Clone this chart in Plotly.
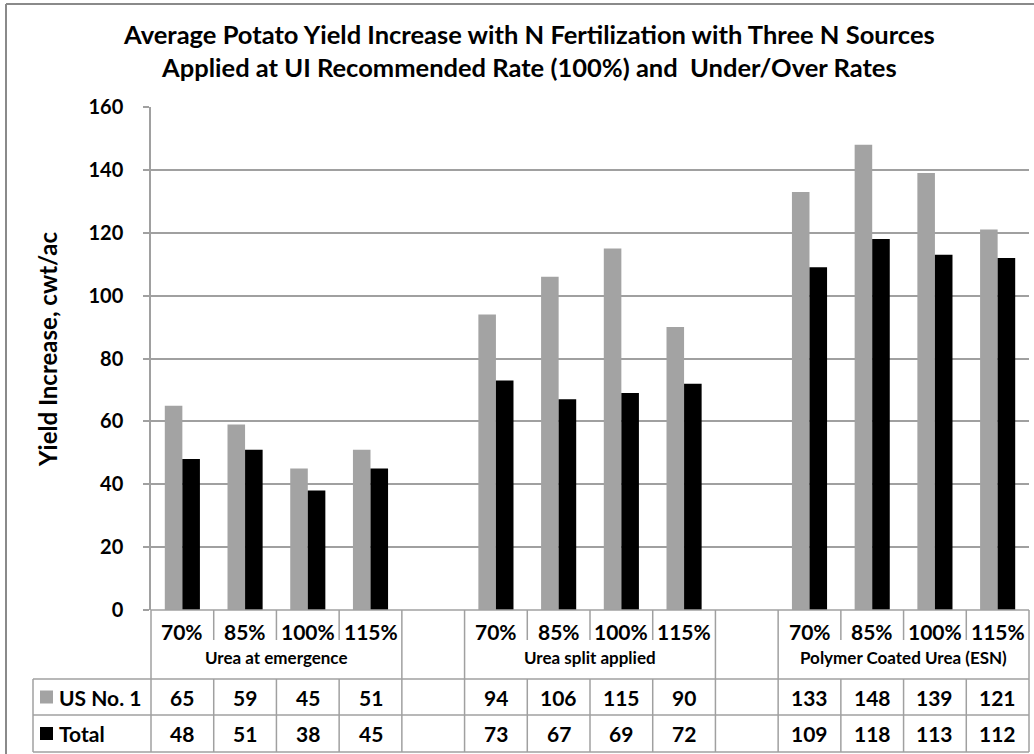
import plotly.graph_objects as go

# ---- data ----
rates = ["70%", "85%", "100%", "115%"]
sources = ["Urea at emergence", "Urea split applied", "Polymer Coated Urea (ESN)"]
us_no1 = [[65, 59, 45, 51], [94, 106, 115, 90], [133, 148, 139, 121]]
total = [[48, 51, 38, 45], [73, 67, 69, 72], [109, 118, 113, 112]]
series_names = ["US No. 1", "Total"]
series_colors = ["#a3a3a3", "#000000"]
y_ticks = [0, 20, 40, 60, 80, 100, 120, 140, 160]

# ---- layout geometry (pixels) ----
FIG_W, FIG_H = 1034, 754
PL, PR, PT, PB = 151, 1029, 107, 610
W, H = PR - PL, PB - PT
N_SLOTS = len(sources) * (len(rates) + 1) - 1   # a blank slot between sources


def xp(px):
    return (px - PL) / W


def yp(py):
    return (PB - py) / H


def slot_x(k):
    """paper x of slot centre k"""
    return (k + 0.5) / N_SLOTS


def edge_x(b):
    """paper x of the boundary left of slot b"""
    return b / N_SLOTS


# slot positions for each source's bars
slots = []
for g in range(len(sources)):
    slots.append([g * (len(rates) + 1) + i for i in range(len(rates))])

xs = [k for grp in slots for k in grp]
series_vals = [
    [v for grp in us_no1 for v in grp],
    [v for grp in total for v in grp],
]

fig = go.Figure()
for name, vals, col in zip(series_names, series_vals, series_colors):
    fig.add_trace(go.Bar(x=xs, y=vals, name=name, marker=dict(color=col, line=dict(width=0)),
                         showlegend=False, hoverinfo="y"))

FONT = "Lato, Carlito, Calibri, sans-serif"
GRID = "#a0a0a0"

fig.update_layout(
    width=FIG_W, height=FIG_H,
    margin=dict(l=PL, r=FIG_W - PR, t=PT, b=FIG_H - PB),
    paper_bgcolor="white", plot_bgcolor="white",
    barmode="group", bargap=0.44, bargroupgap=0,
    font=dict(family=FONT, color="#000"),
    xaxis=dict(range=[-0.5, N_SLOTS - 0.5], visible=False, fixedrange=True),
    yaxis=dict(range=[0, 160], tickvals=y_ticks, showgrid=True, gridcolor=GRID, gridwidth=1.5,
               zeroline=False, showline=True, linecolor=GRID, linewidth=1.5,
               ticks="outside", ticklen=6, tickcolor=GRID, tickwidth=1.5,
               ticklabelstandoff=16,
               tickfont=dict(family=FONT, size=20, weight="bold", color="#000")),
)

shapes = []
ann = []


def hline(y, x0, x1):
    shapes.append(dict(type="line", xref="paper", yref="paper", x0=x0, x1=x1, y0=y, y1=y,
                       line=dict(color=GRID, width=1.5)))


def vline(x, y0, y1):
    shapes.append(dict(type="line", xref="paper", yref="paper", x0=x, x1=x, y0=y0, y1=y1,
                       line=dict(color=GRID, width=1.5)))


def label(x, y, text, size, anchor="center"):
    ann.append(dict(x=x, y=y, text=text, showarrow=False, xref="paper", yref="paper",
                    xanchor=anchor, yanchor="middle",
                    font=dict(size=size, weight="bold")))


# table rows (pixel y)
HDR_TOP, HDR_BOT, ROW1_BOT, ROW2_BOT = 610, 679, 715, 752
LEG_LEFT = 33

hline(yp(HDR_TOP), 0, 1)
hline(yp(HDR_BOT), xp(LEG_LEFT), 1)
hline(yp(ROW1_BOT), xp(LEG_LEFT), 1)
hline(yp(ROW2_BOT), xp(LEG_LEFT), 1)

# vertical lines in the category header
group_edges = set()
for grp in slots:
    group_edges.add(grp[0])
    group_edges.add(grp[-1] + 1)
for b in range(N_SLOTS + 1):
    if b in group_edges:
        vline(edge_x(b), yp(HDR_TOP), yp(HDR_BOT))
    else:
        vline(edge_x(b), yp(HDR_TOP), yp(HDR_TOP + 30))
# vertical lines in the data rows
for b in range(N_SLOTS + 1):
    vline(edge_x(b), yp(HDR_BOT), yp(ROW2_BOT))
vline(xp(LEG_LEFT), yp(HDR_BOT), yp(ROW2_BOT))

# category labels and source names
for g, grp in enumerate(slots):
    for k, lab in zip(grp, rates):
        label(slot_x(k), yp(631), lab, 21)
    mid = (grp[0] + grp[-1]) / 2
    label(slot_x(mid), yp(657), sources[g], 17)

# data table values, with legend keys in the first column
row_y = [(HDR_BOT + ROW1_BOT) / 2, (ROW1_BOT + ROW2_BOT) / 2]
for ri, (name, vals, col) in enumerate(zip(series_names, series_vals, series_colors)):
    for k, v in zip(xs, vals):
        label(slot_x(k), yp(row_y[ri]), str(v), 21)
    shapes.append(dict(type="rect", xref="paper", yref="paper",
                       x0=xp(40), x1=xp(53), y0=yp(row_y[ri] - 6.5), y1=yp(row_y[ri] + 6.5),
                       fillcolor=col, line=dict(width=0)))
    label(xp(57), yp(row_y[ri]), name, 21, anchor="left")

# chart title
ann.append(dict(x=xp(529), y=yp(50), xref="paper", yref="paper", showarrow=False,
                xanchor="center", yanchor="middle",
                text="Average Potato Yield Increase with N Fertilization with Three N Sources<br>"
                     "Applied at UI Recommended Rate (100%) and  Under/Over Rates",
                font=dict(size=25.5, weight="bold")))

# y axis title
ann.append(dict(x=xp(47), y=yp(350), xref="paper", yref="paper", showarrow=False, textangle=-90,
                xanchor="center", yanchor="middle",
                text="Yield Increase, cwt/ac", font=dict(size=24, weight="bold")))

# chart frame (left and top edges)
shapes.append(dict(type="line", xref="paper", yref="paper", x0=xp(6), x1=xp(6), y0=yp(4), y1=yp(760),
                   line=dict(color="#8a8a8a", width=2)))
shapes.append(dict(type="line", xref="paper", yref="paper", x0=xp(6), x1=xp(1040), y0=yp(4), y1=yp(4),
                   line=dict(color="#8a8a8a", width=2)))

fig.update_layout(shapes=shapes, annotations=ann)
fig.write_html("out.html")
